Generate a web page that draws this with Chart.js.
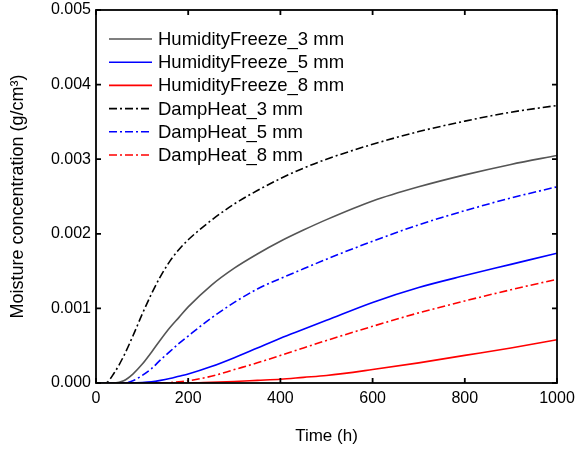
<!DOCTYPE html>
<html>
<head>
<meta charset="utf-8">
<script src="https://cdn.jsdelivr.net/npm/chart.js@4.4.1/dist/chart.umd.min.js"></script>
<style>
  html, body { margin: 0; padding: 0; background: #fff; }
  #wrap { width: 576px; height: 450px; }
</style>
</head>
<body>
<div id="wrap"><canvas id="grafico" width="576" height="450"></canvas></div>
<script>
// tempo (h)
const tempos = [0, 20, 40, 60, 80, 100, 120, 140, 160, 180, 200, 250, 300, 350, 400, 450, 500, 600, 700, 800, 900, 1000];

// concentracao de umidade (g/cm3)
const hf_3mm = [0, 0, 0, 0.00003, 0.00012, 0.00025, 0.00041, 0.00058, 0.00074, 0.00088, 0.00102, 0.00131, 0.00154, 0.00173, 0.00190, 0.00205, 0.00219, 0.00244, 0.00263, 0.00279, 0.00293, 0.00305];
const hf_5mm = [0, 0, 0, 0, 0, 0.000005, 0.000015, 0.000035, 0.00006, 0.00009, 0.00012, 0.00022, 0.00034, 0.00047, 0.00060, 0.00072, 0.00084, 0.00108, 0.00128, 0.00144, 0.00159, 0.00174];
const hf_8mm = [0, 0, 0, 0, 0, 0, 0, 0, 0, 0, 0, 0.00001, 0.00002, 0.000035, 0.00005, 0.000075, 0.00010, 0.00018, 0.00027, 0.00037, 0.00047, 0.00058];
const dh_3mm = [0, 0, 0.00014, 0.00036, 0.00063, 0.00092, 0.00119, 0.00143, 0.00163, 0.00179, 0.00192, 0.00218, 0.00240, 0.00258, 0.00274, 0.00288, 0.00300, 0.00320, 0.00337, 0.00351, 0.00363, 0.00372];
const dh_5mm = [0, 0, 0, 0, 0.00003, 0.00010, 0.00019, 0.00031, 0.00042, 0.00053, 0.00063, 0.00087, 0.00108, 0.00126, 0.00140, 0.00153, 0.00166, 0.00190, 0.00212, 0.00231, 0.00248, 0.00263];
const dh_8mm = [0, 0, 0, 0, 0, 0, 0, 0, 0.000005, 0.000015, 0.00003, 0.00009, 0.00018, 0.00027, 0.00037, 0.00047, 0.00057, 0.00076, 0.00094, 0.00110, 0.00125, 0.00139];

const rotulos = ['HumidityFreeze_3 mm', 'HumidityFreeze_5 mm', 'HumidityFreeze_8 mm', 'DampHeat_3 mm', 'DampHeat_5 mm', 'DampHeat_8 mm'];
const series = [hf_3mm, hf_5mm, hf_8mm, dh_3mm, dh_5mm, dh_8mm];
const cores = ['#555555', '#0000ff', '#ff0000', '#000000', '#0000ff', '#ff0000'];
const tracejado = [[], [], [], [8, 3, 2, 3], [8, 3, 2, 3], [8, 3, 2, 3]];

const datasets = series.map((valores, i) => ({
    label: rotulos[i],
    data: tempos.map((t, j) => ({x: t, y: valores[j]})),
    borderColor: cores[i],
    borderDash: tracejado[i],
    borderWidth: 1.6,
    pointRadius: 0,
    fill: false,
    cubicInterpolationMode: 'monotone'
}));

// legenda dentro da area do grafico
const legendaInterna = {
    id: 'legendaInterna',
    afterDatasetsDraw(chart) {
        const {ctx, chartArea} = chart;
        ctx.save();
        ctx.font = '18.5px "Liberation Sans", Arial, sans-serif';
        ctx.textBaseline = 'middle';
        ctx.fillStyle = '#000';
        chart.data.datasets.forEach((ds, i) => {
            const y = chartArea.top + 29 + i * 23.2;
            const x0 = chartArea.left + 13;
            ctx.beginPath();
            ctx.strokeStyle = ds.borderColor;
            ctx.lineWidth = 1.6;
            ctx.setLineDash(ds.borderDash);
            ctx.moveTo(x0, y);
            ctx.lineTo(x0 + 43, y);
            ctx.stroke();
            ctx.setLineDash([]);
            ctx.fillText(ds.label, x0 + 49, y + 1);
        });
        ctx.restore();
    }
};

// moldura com ticks para dentro nos quatro lados
const moldura = {
    id: 'moldura',
    afterDraw(chart) {
        const {ctx, chartArea: a, scales} = chart;
        ctx.save();
        ctx.strokeStyle = '#000';
        ctx.lineWidth = 1.8;
        ctx.strokeRect(a.left, a.top, a.right - a.left, a.bottom - a.top);
        ctx.beginPath();
        scales.x.ticks.forEach(t => {
            const px = scales.x.getPixelForValue(t.value);
            ctx.moveTo(px, a.bottom); ctx.lineTo(px, a.bottom - 5);
            ctx.moveTo(px, a.top); ctx.lineTo(px, a.top + 5);
        });
        scales.y.ticks.forEach(t => {
            const py = scales.y.getPixelForValue(t.value);
            ctx.moveTo(a.left, py); ctx.lineTo(a.left + 5, py);
            ctx.moveTo(a.right, py); ctx.lineTo(a.right - 5, py);
        });
        ctx.stroke();
        ctx.restore();
    }
};

const fonte = '"Liberation Sans", Arial, sans-serif';

new Chart(document.getElementById('grafico'), {
    type: 'line',
    data: {datasets: datasets},
    options: {
        responsive: false,
        animation: false,
        layout: {padding: {left: 0, right: 19, top: 10, bottom: 0}},
        plugins: {
            legend: {display: false},
            tooltip: {enabled: false}
        },
        scales: {
            x: {
                type: 'linear',
                min: 0,
                max: 1000,
                grid: {display: false, drawTicks: false},
                border: {display: false},
                ticks: {
                    stepSize: 200,
                    padding: 6,
                    color: '#000',
                    font: {family: fonte, size: 16},
                    maxRotation: 0,
                    callback: (v) => String(v)
                },
                title: {
                    display: true,
                    text: 'Time (h)',
                    color: '#000',
                    font: {family: fonte, size: 17},
                    padding: {top: 0, bottom: 3}
                },
                afterFit: (escala) => {
                    escala.height = 67;
                    escala.paddingLeft = 0;
                    escala.paddingRight = 0;
                }
            },
            y: {
                min: 0,
                max: 0.005,
                grid: {display: false, drawTicks: false},
                border: {display: false},
                ticks: {
                    stepSize: 0.001,
                    padding: 5,
                    color: '#000',
                    font: {family: fonte, size: 16},
                    callback: (v) => v.toFixed(3)
                },
                title: {
                    display: true,
                    text: 'Moisture concentration (g/cm³)',
                    color: '#000',
                    font: {family: fonte, size: 18},
                    padding: {top: 7, bottom: 0}
                },
                afterFit: (escala) => {
                    escala.width = 96;
                    escala.paddingTop = 0;
                    escala.paddingBottom = 0;
                }
            }
        }
    },
    plugins: [legendaInterna, moldura]
});
</script>
</body>
</html>
